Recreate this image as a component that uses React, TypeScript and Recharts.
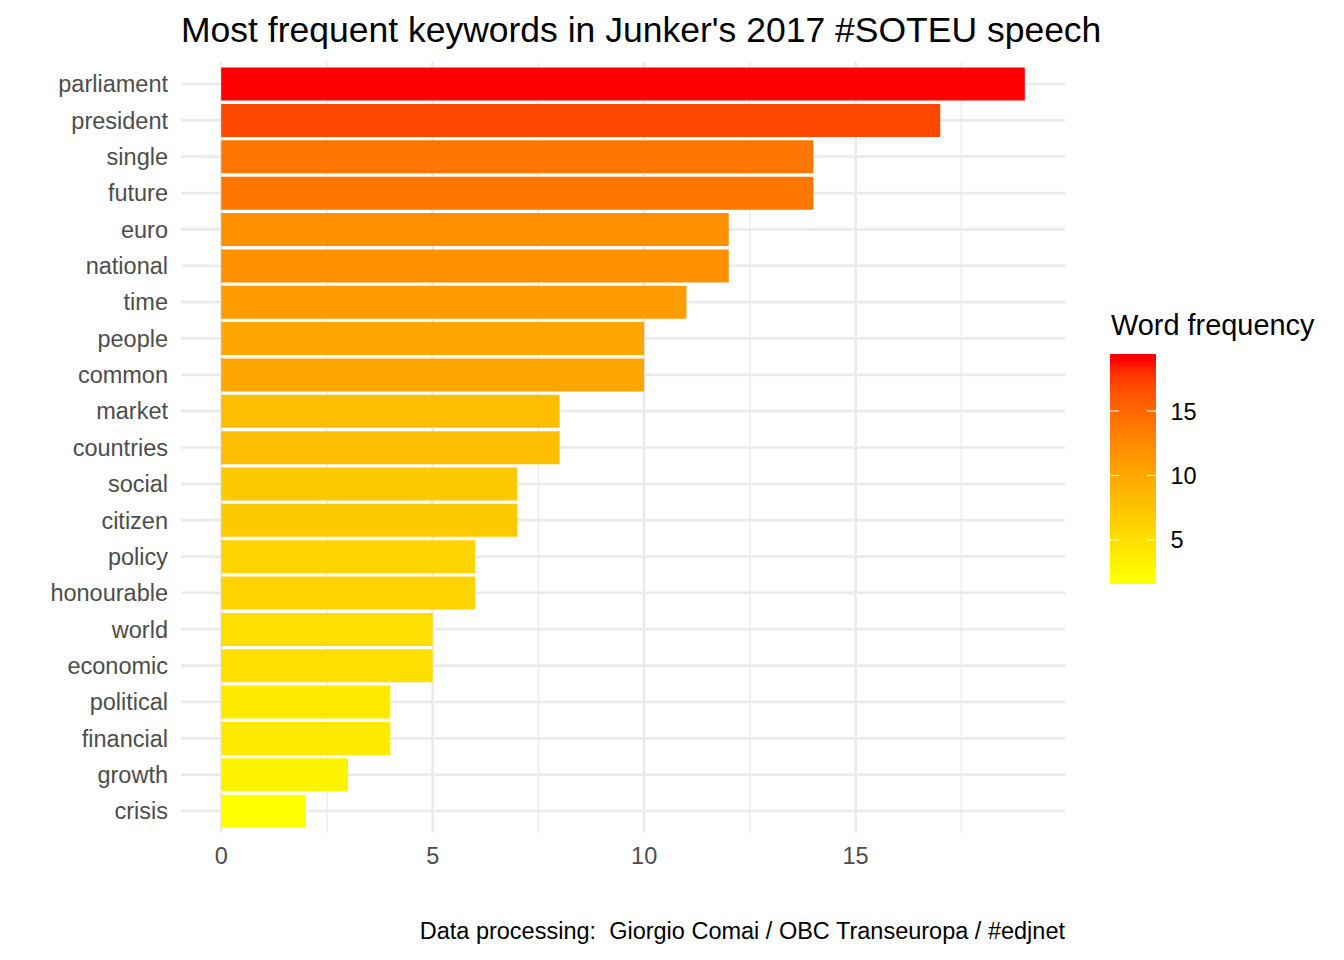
import React from 'react';
import { BarChart, Bar, Cell, XAxis, YAxis, CartesianGrid } from 'recharts';

const KEYWORDS = [
  'parliament', 'president', 'single', 'future', 'euro', 'national', 'time',
  'people', 'common', 'market', 'countries', 'social', 'citizen', 'policy',
  'honourable', 'world', 'economic', 'political', 'financial', 'growth', 'crisis'
];
const FREQUENCIES = [19, 17, 14, 14, 12, 12, 11, 10, 10, 8, 8, 7, 7, 6, 6, 5, 5, 4, 4, 3, 2];
const X_DOMAIN = [-0.95, 19.95];
const X_TICKS = [0, 5, 10, 15];
const X_MINOR_TICKS = [2.5, 7.5, 12.5, 17.5];
const LEGEND_TICKS = [5, 10, 15];

const TITLE = "Most frequent keywords in Junker's 2017 #SOTEU speech";
const CAPTION = 'Data processing:\u00A0 Giorgio Comai / OBC Transeuropa / #edjnet';
const LEGEND_TITLE = 'Word frequency';

const FONT = '"Liberation Sans", Arial, sans-serif';
const GRID = '#EBEBEB';

const data = KEYWORDS.map((word, i) => ({ word, n: FREQUENCIES[i] }));
const minN = Math.min(...FREQUENCIES);
const maxN = Math.max(...FREQUENCIES);

// ggplot-style yellow -> red gradient, interpolated in Lab space
const toLin = (c: number) => {
  const v = c / 255;
  return v <= 0.04045 ? v / 12.92 : Math.pow((v + 0.055) / 1.055, 2.4);
};
const fromLin = (c: number) => {
  const v = c <= 0.0031308 ? 12.92 * c : 1.055 * Math.pow(Math.max(c, 0), 1 / 2.4) - 0.055;
  return Math.round(Math.max(0, Math.min(1, v)) * 255);
};
const rgbToLab = ([r, g, b]: number[]) => {
  const R = toLin(r), G = toLin(g), B = toLin(b);
  const X = (0.4124564 * R + 0.3575761 * G + 0.1804375 * B) / 0.95047;
  const Y = 0.2126729 * R + 0.7151522 * G + 0.072175 * B;
  const Z = (0.0193339 * R + 0.119192 * G + 0.9503041 * B) / 1.08883;
  const f = (t: number) => (t > 216 / 24389 ? Math.cbrt(t) : ((24389 / 27) * t + 16) / 116);
  const fx = f(X), fy = f(Y), fz = f(Z);
  return [116 * fy - 16, 500 * (fx - fy), 200 * (fy - fz)];
};
const labToRgb = ([L, a, b]: number[]) => {
  const fy = (L + 16) / 116;
  const fx = fy + a / 500;
  const fz = fy - b / 200;
  const inv = (t: number) => (t * t * t > 216 / 24389 ? t * t * t : (116 * t - 16) / (24389 / 27));
  const X = inv(fx) * 0.95047, Y = inv(fy), Z = inv(fz) * 1.08883;
  const R = 3.2404542 * X - 1.5371385 * Y - 0.4985314 * Z;
  const G = -0.969266 * X + 1.8760108 * Y + 0.041556 * Z;
  const B = 0.0556434 * X - 0.2040259 * Y + 1.0572252 * Z;
  return [fromLin(R), fromLin(G), fromLin(B)];
};
const LOW = rgbToLab([255, 255, 0]);
const HIGH = rgbToLab([255, 0, 0]);
const colorFor = (v: number) => {
  const t = Math.max(0, Math.min(1, (v - minN) / (maxN - minN)));
  const [r, g, b] = labToRgb(LOW.map((l, i) => l + (HIGH[i] - l) * t));
  return `rgb(${r},${g},${b})`;
};

// colourbar geometry (legend)
const BAR_X = 1110;
const BAR_W = 46;
const BAR_TOP = 354;
const BAR_H = 230;
const binHalf = (maxN - minN) / 40;
const legendLo = minN - binHalf;
const legendHi = maxN + binHalf;
const legendY = (v: number) => BAR_TOP + BAR_H - ((v - legendLo) / (legendHi - legendLo)) * BAR_H;

const stops: number[] = [];
for (let v = minN; v <= maxN; v++) stops.push(v);

// minor vertical grid lines, placed with the x scale when available
const minorLines = ({ xAxis, offset }: any) => {
  if (xAxis && typeof xAxis.scale === 'function') {
    return X_MINOR_TICKS.map((v) => xAxis.scale(v));
  }
  return X_MINOR_TICKS.map(
    (v) => offset.left + ((v - X_DOMAIN[0]) / (X_DOMAIN[1] - X_DOMAIN[0])) * offset.width
  );
};

export default function App() {
  return (
    <div
      style={{
        position: 'absolute',
        left: 0,
        top: 0,
        width: 1344,
        height: 960,
        background: '#fff',
        fontFamily: FONT
      }}
    >
      <BarChart
        width={1344}
        height={960}
        data={data}
        layout="vertical"
        margin={{ top: 62.2, right: 279, bottom: 87.2, left: 11 }}
        barCategoryGap="5%"
      >
        <CartesianGrid
          horizontal={false}
          stroke={GRID}
          strokeWidth={1.4}
          verticalCoordinatesGenerator={minorLines}
        />
        <CartesianGrid stroke={GRID} strokeWidth={2.7} syncWithTicks />
        <XAxis
          type="number"
          dataKey="n"
          domain={X_DOMAIN}
          allowDataOverflow
          ticks={X_TICKS}
          axisLine={false}
          tickLine={false}
          tickSize={0}
          tickMargin={15}
          height={40}
          tick={{ fontSize: 23.5, fill: '#4D4D4D', fontFamily: FONT }}
        />
        <YAxis
          type="category"
          dataKey="word"
          width={170}
          axisLine={false}
          tickLine={false}
          tickSize={0}
          tickMargin={13}
          interval={0}
          padding={{ top: 3.6, bottom: 3.6 }}
          tick={{ fontSize: 23.5, fill: '#4D4D4D', fontFamily: FONT }}
        />
        <Bar dataKey="n" isAnimationActive={false}>
          {data.map((d) => (
            <Cell key={d.word} fill={colorFor(d.n)} />
          ))}
        </Bar>
      </BarChart>
      <svg
        width={1344}
        height={960}
        style={{ position: 'absolute', left: 0, top: 0, pointerEvents: 'none' }}
      >
        <defs>
          <linearGradient id="freqGrad" x1="0" y1="1" x2="0" y2="0">
            {stops.map((v) => (
              <stop
                key={v}
                offset={(v - legendLo) / (legendHi - legendLo)}
                stopColor={colorFor(v)}
              />
            ))}
          </linearGradient>
        </defs>
        <text x={181} y={41.7} fontSize={35.5} fill="#000" fontFamily={FONT}>
          {TITLE}
        </text>
        <text x={1111} y={334.5} fontSize={28.9} fill="#000" fontFamily={FONT}>
          {LEGEND_TITLE}
        </text>
        <rect x={BAR_X} y={BAR_TOP} width={BAR_W} height={BAR_H} fill="url(#freqGrad)" />
        {LEGEND_TICKS.map((v) => (
          <g key={v}>
            <line x1={BAR_X} x2={BAR_X + 9} y1={legendY(v)} y2={legendY(v)} stroke="#fff" strokeWidth={1} />
            <line x1={BAR_X + BAR_W - 9} x2={BAR_X + BAR_W} y1={legendY(v)} y2={legendY(v)} stroke="#fff" strokeWidth={1} />
            <text x={1170.5} y={legendY(v) + 8.5} fontSize={23.5} fill="#000" fontFamily={FONT}>
              {v}
            </text>
          </g>
        ))}
        <text x={1065} y={938.5} fontSize={23.5} fill="#000" textAnchor="end" fontFamily={FONT}>
          {CAPTION}
        </text>
      </svg>
    </div>
  );
}
